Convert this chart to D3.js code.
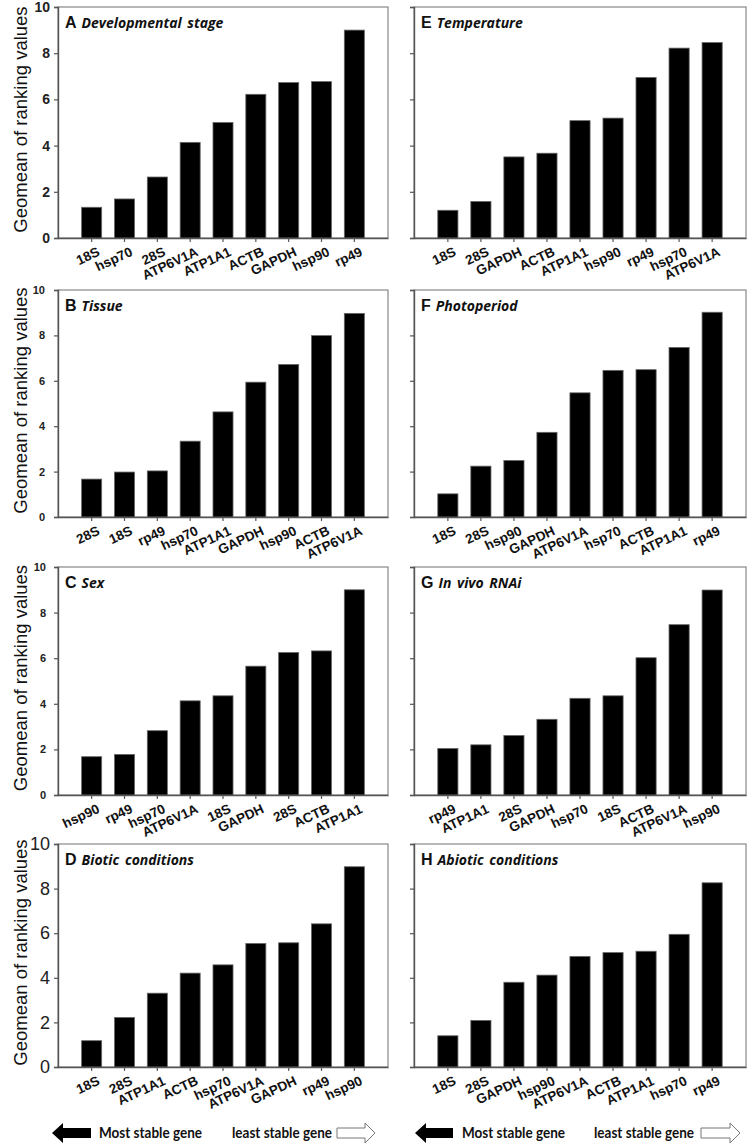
<!DOCTYPE html>
<html><head><meta charset="utf-8">
<script src="https://cdn.jsdelivr.net/npm/d3@7/dist/d3.min.js"></script>
<style>html,body{margin:0;padding:0;background:#fff;}</style>
</head><body>
<svg id="chart" width="750" height="1143"></svg>
<script>
// ---------- data ----------
const yTicks = [0, 2, 4, 6, 8, 10];
const yTitle = "Geomean of ranking values";

const letters = ["A","B","C","D","E","F","G","H"];
const subtitles = ["Developmental stage","Tissue","Sex","Biotic conditions",
                   "Temperature","Photoperiod","In vivo RNAi","Abiotic conditions"];

const genesA = ["18S","hsp70","28S","ATP6V1A","ATP1A1","ACTB","GAPDH","hsp90","rp49"];
const valuesA = [1.33,1.69,2.64,4.14,5.0,6.22,6.73,6.77,9.0];
const genesB = ["28S","18S","rp49","hsp70","ATP1A1","GAPDH","hsp90","ACTB","ATP6V1A"];
const valuesB = [1.67,1.98,2.03,3.34,4.63,5.94,6.72,7.99,8.97];
const genesC = ["hsp90","rp49","hsp70","ATP6V1A","18S","GAPDH","28S","ACTB","ATP1A1"];
const valuesC = [1.68,1.78,2.82,4.13,4.35,5.65,6.25,6.32,9.0];
const genesD = ["18S","28S","ATP1A1","ACTB","hsp70","ATP6V1A","GAPDH","rp49","hsp90"];
const valuesD = [1.18,2.22,3.31,4.21,4.58,5.54,5.57,6.42,8.98];
const genesE = ["18S","28S","GAPDH","ACTB","ATP1A1","hsp90","rp49","hsp70","ATP6V1A"];
const valuesE = [1.2,1.58,3.51,3.67,5.08,5.19,6.95,8.22,8.46];
const genesF = ["18S","28S","hsp90","GAPDH","ATP6V1A","hsp70","ACTB","ATP1A1","rp49"];
const valuesF = [1.02,2.24,2.49,3.73,5.47,6.46,6.49,7.47,9.02];
const genesG = ["rp49","ATP1A1","28S","GAPDH","hsp70","18S","ACTB","ATP6V1A","hsp90"];
const valuesG = [2.04,2.2,2.61,3.32,4.24,4.35,6.02,7.47,8.99];
const genesH = ["18S","28S","GAPDH","hsp90","ATP6V1A","ACTB","ATP1A1","hsp70","rp49"];
const valuesH = [1.4,2.09,3.8,4.12,4.96,5.13,5.19,5.95,8.26];

const legendLeft = "Most stable gene";
const legendRight = "least stable gene";

// ---------- layout ----------
const genesAll = [genesA,genesB,genesC,genesD,genesE,genesF,genesG,genesH];
const valuesAll = [valuesA,valuesB,valuesC,valuesD,valuesE,valuesF,valuesG,valuesH];
const cols = [{x0:58, x1:388}, {x0:414, x1:746}];
const rows = [{top:7,bottom:238},{top:290,bottom:517},{top:567,bottom:795},{top:844,bottom:1067}];
// tick label style for the left column, per row
const tickStyle = [
  {size:14, weight:"bold", pad:4},
  {size:11, weight:"bold", pad:9},
  {size:11, weight:"bold", pad:8},
  {size:18, weight:"normal", pad:4}
];

const svg = d3.select("#chart");
svg.append("rect").attr("width",750).attr("height",1143).attr("fill","#fff");

const axisColor = "#555";
const boxColor = "#888";

letters.forEach((L, i) => {
  const col = cols[Math.floor(i/4)];
  const row = rows[i%4];
  const isLeft = i < 4;
  const g = svg.append("g");

  const x = d3.scaleBand().domain(genesAll[i]).range([col.x0, col.x1])
    .paddingInner(0.39).paddingOuter(0.72);
  const y = d3.scaleLinear().domain([0,10]).range([row.bottom, row.top]);

  // frame (top/right)
  g.append("rect").attr("x", col.x0).attr("y", row.top)
    .attr("width", col.x1-col.x0).attr("height", row.bottom-row.top)
    .attr("fill","none").attr("stroke", boxColor).attr("stroke-width",1.2);

  // bars
  g.selectAll("rect.bar").data(genesAll[i].map((d,k)=>({g:d, v:valuesAll[i][k]})))
    .enter().append("rect").attr("class","bar")
    .attr("x", d=>x(d.g)).attr("width", x.bandwidth())
    .attr("y", d=>y(d.v)).attr("height", d=>y(0)-y(d.v))
    .attr("fill","#000").attr("stroke","#666").attr("stroke-width",0.8);

  // y axis
  const ts = tickStyle[i%4];
  const ya = d3.axisLeft(y).tickValues(yTicks).tickSize(4).tickPadding(ts.pad);
  if (!isLeft) ya.tickFormat("");
  const yg = g.append("g").attr("transform",`translate(${col.x0},0)`).call(ya);
  yg.select(".domain").attr("stroke", axisColor).attr("stroke-width",1.4);
  yg.selectAll(".tick line").attr("stroke", axisColor).attr("stroke-width",1.2);
  yg.selectAll(".tick text").attr("font-family","Liberation Sans, Arial, sans-serif")
    .attr("font-size", ts.size).attr("font-weight", ts.weight).attr("fill","#222");

  // x axis
  const xa = d3.axisBottom(x).tickSize(4).tickSizeOuter(0);
  const xg = g.append("g").attr("transform",`translate(0,${row.bottom})`).call(xa);
  xg.select(".domain").attr("stroke", axisColor).attr("stroke-width",1.4);
  xg.selectAll(".tick line").attr("stroke", axisColor).attr("stroke-width",1.2);
  xg.selectAll(".tick text")
    .attr("font-family","Liberation Sans, Arial, sans-serif")
    .attr("font-size",13.5).attr("font-weight","bold").attr("fill","#111")
    .attr("x",0).attr("y",0).attr("dy",0)
    .attr("text-anchor","end")
    .attr("transform","translate(9,17) rotate(-25)");

  // y title
  if (isLeft) {
    g.append("text")
      .attr("transform",`translate(27,${(row.top+row.bottom)/2 - 3}) rotate(-90)`)
      .attr("text-anchor","middle")
      .attr("font-family","Liberation Sans, Arial, sans-serif")
      .attr("font-size",18.5).attr("fill","#111").text(yTitle);
  }

  // panel title
  const t = g.append("text").attr("x", col.x0 + 7).attr("y", row.top + 21).attr("fill","#111");
  t.append("tspan").attr("font-family","Liberation Sans, Arial, sans-serif")
    .attr("font-weight","bold").attr("font-size",16).text(L);
  t.append("tspan").attr("dx",5).attr("font-family","Open Sans, sans-serif")
    .attr("font-weight","bold").attr("font-style","italic").attr("font-size",14)
    .attr("word-spacing",2)
    .text(subtitles[i]);
});

// ---------- legend arrows ----------
function blackArrow(tip, end, cy) {
  const h = tip + 11;
  return `M${tip},${cy} L${h},${cy-10} L${h},${cy-5} L${end},${cy-5} L${end},${cy+5} L${h},${cy+5} L${h},${cy+10} Z`;
}
function whiteArrow(start, tip, cy) {
  const h = tip - 10;
  return `M${start},${cy-5} L${h},${cy-5} L${h},${cy-10} L${tip},${cy} L${h},${cy+10} L${h},${cy+5} L${start},${cy+5} Z`;
}
const legendY = 1133;
const legendSets = [
  {ba:[52,91], t1:99, t2:232, wa:[337,375]},
  {ba:[415,453], t1:462, t2:594, wa:[701,740]}
];
legendSets.forEach(s => {
  svg.append("path").attr("d", blackArrow(s.ba[0], s.ba[1], legendY)).attr("fill","#000");
  svg.append("path").attr("d", whiteArrow(s.wa[0], s.wa[1], legendY))
    .attr("fill","#fff").attr("stroke","#777").attr("stroke-width",1);
  svg.append("text").attr("x", s.t1).attr("y", legendY+5)
    .attr("font-family","Lato, Open Sans, sans-serif").attr("font-weight","bold")
    .attr("font-size",15).attr("fill","#111")
    .attr("textLength",103).attr("lengthAdjust","spacingAndGlyphs").text(legendLeft);
  svg.append("text").attr("x", s.t2).attr("y", legendY+5)
    .attr("font-family","Lato, Open Sans, sans-serif").attr("font-weight","bold")
    .attr("font-size",15).attr("fill","#111")
    .attr("textLength",100).attr("lengthAdjust","spacingAndGlyphs").text(legendRight);
});
</script>
</body></html>
